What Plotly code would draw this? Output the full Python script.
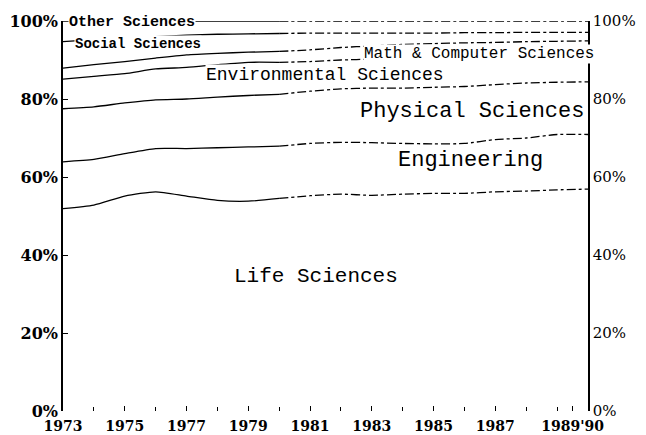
import numpy as np
import plotly.graph_objects as go

years = list(range(1973, 1991))

# share of degrees by field (percent)
life = [51.9, 52.8, 55.1, 56.2, 55.1, 54.0, 53.8, 54.5, 55.2, 55.6, 55.3, 55.6, 55.8, 55.8, 56.2, 56.4, 56.7, 56.9]
engineering = [12.0, 11.7, 10.9, 11.1, 12.2, 13.5, 13.9, 13.4, 13.4, 13.3, 13.5, 13.0, 12.7, 12.8, 13.4, 13.6, 14.2, 14.0]
physical = [13.6, 13.5, 13.0, 12.5, 12.7, 13.0, 13.2, 13.3, 13.4, 13.7, 14.0, 14.2, 14.5, 14.6, 14.1, 14.1, 13.4, 13.5]
environmental = [7.6, 7.8, 7.5, 7.9, 8.1, 8.3, 8.5, 8.2, 7.6, 7.4, 7.4, 7.4, 7.2, 7.0, 6.5, 6.1, 5.9, 5.8]
math_cs = [2.8, 3.0, 3.1, 2.8, 3.2, 2.9, 2.6, 2.8, 3.0, 3.2, 3.4, 3.8, 4.0, 4.2, 4.3, 4.5, 4.6, 4.7]
social = [6.8, 6.4, 6.0, 5.5, 5.1, 4.9, 4.7, 4.6, 4.3, 3.7, 3.3, 2.9, 2.7, 2.6, 2.5, 2.4, 2.3, 2.2]
other = [5.3, 4.8, 4.4, 4.0, 3.6, 3.4, 3.3, 3.2, 3.1, 3.1, 3.1, 3.1, 3.1, 3.0, 3.0, 2.9, 2.9, 2.9]

fields = ["Life Sciences", "Engineering", "Physical Sciences", "Environmental Sciences",
          "Math & Computer Sciences", "Social Sciences", "Other Sciences"]
series = [life, engineering, physical, environmental, math_cs, social, other]

x_tick_vals = [1973, 1975, 1977, 1979, 1981, 1983, 1985, 1987, 1989.5]
x_tick_text = ["1973", "1975", "1977", "1979", "1981", "1983", "1985", "1987", "1989'90"]
y_tick_vals = [0, 20, 40, 60, 80, 100]
y_tick_text = ["0%", "20%", "40%", "60%", "80%", "100%"]

cum = np.cumsum(np.array(series), axis=0)
yrs = np.array(years)
split = 1980

fig = go.Figure()
for name, top in zip(fields, cum):
    left = yrs <= split
    right = yrs >= split
    fig.add_trace(go.Scatter(x=yrs[left], y=top[left], mode="lines", name=name,
                             line=dict(color="black", width=1.3, shape="spline", smoothing=0.6),
                             showlegend=False, hoverinfo="skip"))
    fig.add_trace(go.Scatter(x=yrs[right], y=top[right], mode="lines", name=name,
                             line=dict(color="black", width=1.3, dash="dashdot", shape="spline", smoothing=0.6),
                             showlegend=False, hoverinfo="skip"))

serif = "DejaVu Serif"
mono = "Liberation Mono"
labels = [
    ("Other Sciences", 1973.15, 99.5, 15, "bold"),
    ("Social Sciences", 1973.35, 94.0, 14, "bold"),
    ("Math & Computer Sciences", 1982.7, 91.6, 16, "normal"),
    ("Environmental Sciences", 1977.6, 86.2, 18, "normal"),
    ("Physical Sciences", 1982.6, 76.9, 22, "normal"),
    ("Engineering", 1983.8, 64.3, 22, "normal"),
    ("Life Sciences", 1978.5, 34.4, 21, "normal"),
]
for text, xx, yy, size, weight in labels:
    fig.add_annotation(x=xx, y=yy, text=text, showarrow=False, xanchor="left", yanchor="middle",
                       font=dict(family=mono, size=size, color="black", weight=weight),
                       bgcolor="white", borderpad=0)

fig.update_layout(
    width=646, height=435,
    margin=dict(l=63, r=58, t=21, b=24),
    paper_bgcolor="white", plot_bgcolor="white",
    xaxis=dict(range=[1973, 1990], tickvals=x_tick_vals, ticktext=x_tick_text, automargin=False,
               showgrid=False, zeroline=False, showline=False,
               ticks="inside", ticklen=5, tickcolor="black", ticklabelstandoff=5,
               minor=dict(dtick=1, ticks="inside", ticklen=4, tickcolor="black"),
               tickfont=dict(family=serif, size=14, color="black", weight="bold")),
    yaxis=dict(range=[0, 100], tickvals=y_tick_vals, ticktext=y_tick_text, automargin=False,
               showgrid=False, zeroline=False, showline=True, linecolor="black", linewidth=1.5,
               ticks="inside", ticklen=5, tickcolor="black",
               tickfont=dict(family=serif, size=16, color="black", weight="bold")),
    yaxis2=dict(range=[0, 100], tickvals=y_tick_vals, ticktext=y_tick_text, overlaying="y", side="right",
                automargin=False, showgrid=False, zeroline=False, showline=True, linecolor="black", linewidth=1.5,
                ticks="", tickfont=dict(family=serif, size=15, color="black")),
)
fig.add_trace(go.Scatter(x=[1973], y=[0], yaxis="y2", mode="markers", marker=dict(opacity=0),
                         showlegend=False, hoverinfo="skip"))

fig.write_html("out.html", config={"displayModeBar": False},
               post_script="document.body.style.margin='0';document.body.style.overflow='hidden';")
